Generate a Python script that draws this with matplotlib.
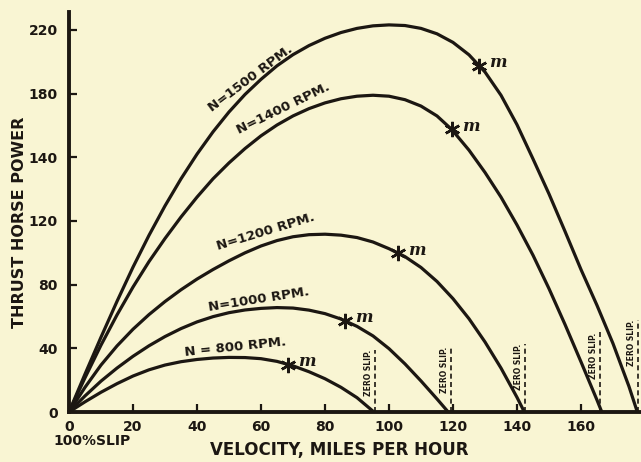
import matplotlib
matplotlib.use("Agg")
import matplotlib.pyplot as plt

# thrust horse power vs velocity for several propeller speeds
# (y axis units follow the tick spacing)
rpm_labels = ["N = 800 RPM.", "N=1000 RPM.", "N=1200 RPM.", "N=1400 RPM.", "N=1500 RPM."]

v_800 = [0, 5, 10, 15, 20, 25, 30, 35, 40, 45, 50, 55, 60, 65, 70, 75, 80, 85, 90, 95.3]
p_800 = [0, 6.4, 12.4, 17.8, 22.6, 26.5, 29.5, 31.6, 33.0, 33.9, 34.3, 34.2, 33.5, 31.8, 29.0,
         25.3, 20.9, 15.5, 9.0, 0]

v_1000 = [0, 5, 10, 15, 20, 25, 30, 35, 40, 45, 50, 55, 60, 65, 70, 75, 80, 85, 90, 95, 100,
          105, 110, 115, 118.5]
p_1000 = [0, 10.1, 19.4, 27.6, 35.0, 41.6, 47.4, 52.4, 56.6, 59.9, 62.4, 64.1, 65.1, 65.6, 65.3,
          64.0, 61.8, 58.4, 53.8, 47.8, 39.8, 30.2, 19.5, 8.2, 0]

v_1200 = [0, 5, 10, 15, 20, 25, 30, 35, 40, 45, 50, 55, 60, 65, 70, 75, 80, 85, 90, 95, 100,
          105, 110, 115, 120, 125, 130, 135, 140, 142.3]
p_1200 = [0, 15.5, 29.5, 41.5, 52.0, 61.2, 69.4, 76.8, 83.5, 89.5, 95.0, 100.0, 104.3, 107.7,
          110.1, 111.4, 111.7, 111.1, 109.6, 106.8, 102.6, 97.6, 90.8, 82.0, 71.2, 58.6, 44.0,
          27.6, 9.2, 0]

v_1400 = [0, 5, 10, 15, 20, 25, 30, 35, 40, 45, 50, 55, 60, 65, 70, 75, 80, 85, 90, 95, 100,
          105, 110, 115, 119.6, 125, 130, 135, 140, 145, 150, 155, 160, 165, 166.5]
p_1400 = [0, 21.5, 42, 61, 78.5, 94.5, 109, 122.5, 135, 146.5, 156.5, 165.5, 173.5, 180.3, 186,
          190.6, 194.2, 196.8, 198.4, 199, 198.4, 196.2, 192.2, 186, 177.5, 164.5, 150.5, 135,
          117.5, 98.5, 77.5, 55, 31.5, 7.5, 0]

v_1500 = [0, 5, 10, 15, 20, 25, 30, 35, 40, 45, 50, 55, 60, 65, 70, 75, 80, 85, 90, 95, 100,
          105, 110, 115, 120, 125, 130, 135, 140, 145, 150, 155, 160, 165, 170, 175, 177.6]
p_1500 = [0, 23.8, 47, 69.5, 91, 111, 129.5, 146.5, 162, 176, 188.5, 199.5, 209, 217.5, 224.5,
          230.2, 234.8, 238.4, 241, 242.6, 243.2, 242.8, 241, 237.6, 232.2, 224.4, 213.6, 199,
          180.5, 159, 137, 113.5, 89.5, 67, 43, 16, 0]

# "m" points on each curve
m_v = [68.5, 86.3, 102.9, 119.6, 128.2]
m_p = [29.8, 57.2, 99.8, 177.5, 217.5]

# zero slip velocities and height of the dashed marks
zero_slip_v = [95.5, 119.5, 142.5, 166.0, 177.8]
zero_slip_h = [39, 41, 43, 50, 58]

x_ticks = [0, 20, 40, 60, 80, 100, 120, 140, 160]
y_ticks = [0, 40, 80, 120, 160, 200, 240]
y_tick_labels = ["0", "40", "80", "120", "140", "180", "220"]  # as printed

# label placement (centre in data units, angle in degrees)
label_v = [51.9, 59.4, 61.4, 66.9, 56.6]
label_p = [40.8, 70.4, 113.0, 190.9, 209.4]
label_rot = [6, 9, 17, 26, 37]

paper = "#f9f5d3"
ink = "#1c1712"

fig = plt.figure(figsize=(6.41, 4.62), dpi=100, facecolor=paper)
ax = fig.add_axes([69 / 641, 50 / 462, 572 / 641, 400 / 462], facecolor=paper)

curves = [(v_800, p_800), (v_1000, p_1000), (v_1200, p_1200), (v_1400, p_1400), (v_1500, p_1500)]
for v, p in curves:
    ax.plot(v, p, color=ink, lw=2.3, solid_capstyle="round", solid_joinstyle="round")

ax.plot(m_v, m_p, linestyle="none", marker=(6, 2, 0), markersize=11, mew=1.8, color=ink)
for v, p in zip(m_v, m_p):
    ax.annotate("m", (v, p), xytext=(19, 3), textcoords="offset pixels", ha="center", va="center",
                fontsize=12, fontstyle="italic", fontweight="bold", family="DejaVu Serif", color=ink)

for i in range(len(rpm_labels)):
    ax.text(label_v[i], label_p[i], rpm_labels[i], rotation=label_rot[i], rotation_mode="anchor",
            ha="center", va="center", fontsize=9.5, fontweight="bold", color=ink)

for v, h in zip(zero_slip_v, zero_slip_h):
    ax.plot([v, v], [0, h], color=ink, lw=1.2, linestyle=(0, (3, 2)), clip_on=False)
    ax.annotate("ZERO SLIP.", (v, h), xytext=(-2, 0), textcoords="offset pixels", rotation=90,
                ha="right", va="top", fontsize=5.5, fontweight="bold", color=ink)

ax.set_xlim(0, 178.75)
ax.set_ylim(0, 251.3)
ax.set_xticks(x_ticks)
ax.set_yticks(y_ticks)
ax.set_yticklabels(y_tick_labels)
ax.tick_params(direction="in", length=6, width=1.6, colors=ink, labelsize=10)
ax.tick_params(axis="y", pad=8)
ax.tick_params(axis="x", pad=6)
for lab in ax.get_xticklabels() + ax.get_yticklabels():
    lab.set_fontweight("bold")

for side in ["top", "right"]:
    ax.spines[side].set_visible(False)
for side in ["left", "bottom"]:
    ax.spines[side].set_linewidth(2.8)
    ax.spines[side].set_color(ink)

fig.text(20 / 641, 1 - 222 / 462, "THRUST HORSE POWER", rotation=90, ha="center", va="center",
         fontsize=11.5, fontweight="bold", color=ink)
fig.text(339 / 641, 1 - 450 / 462, "VELOCITY, MILES PER HOUR", ha="center", va="center",
         fontsize=12, fontweight="bold", color=ink)
fig.text(53 / 641, 1 - 441 / 462, "100%SLIP", ha="left", va="center",
         fontsize=10, fontweight="bold", color=ink)

fig.savefig("out.png", dpi=100, facecolor=paper)
plt.close()
